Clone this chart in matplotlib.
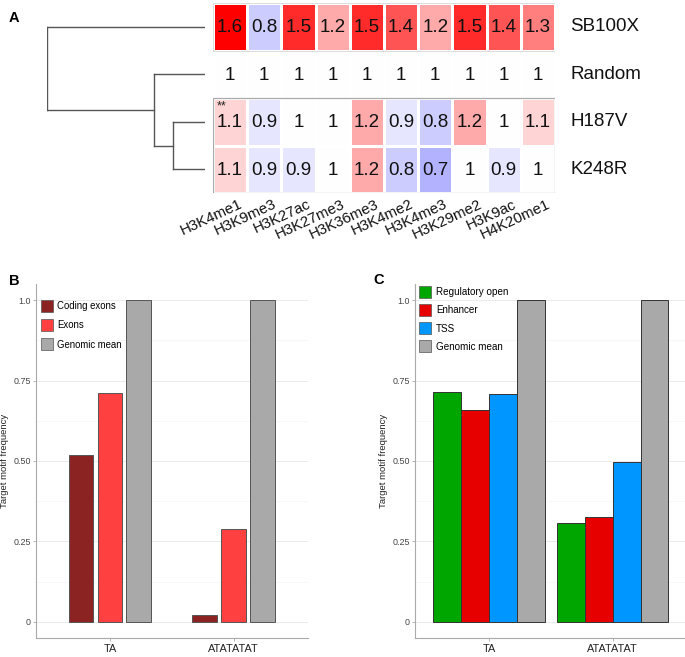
import numpy as np
import matplotlib
matplotlib.use("Agg")
import matplotlib.pyplot as plt
from matplotlib.colors import LinearSegmentedColormap, TwoSlopeNorm
from matplotlib.patches import Patch, Rectangle
from matplotlib.transforms import ScaledTranslation

plt.rcParams['font.family'] = ['Liberation Sans', 'DejaVu Sans']

# ---- panel A data ----
marks = ["H3K4me1", "H3K9me3", "H3K27ac", "H3K27me3", "H3K36me3",
         "H3K4me2", "H3K4me3", "H3K29me2", "H3K9ac", "H4K20me1"]
samples = ["SB100X", "Random", "H187V", "K248R"]
sb100x = [1.6, 0.8, 1.5, 1.2, 1.5, 1.4, 1.2, 1.5, 1.4, 1.3]
random_ = [1, 1, 1, 1, 1, 1, 1, 1, 1, 1]
h187v = [1.1, 0.9, 1, 1, 1.2, 0.9, 0.8, 1.2, 1, 1.1]
k248r = [1.1, 0.9, 0.9, 1, 1.2, 0.8, 0.7, 1, 0.9, 1]
stars = {(2, 0): "**"}
# dendrogram merges: (left, right, height); leaves 0..3, new nodes 4, 5, 6
merges = [(2, 3, 0.2), (1, 4, 0.32), (0, 5, 1.0)]

# ---- panel B / C data ----
motifs = ["TA", "ATATATAT"]
b_series = ["Coding exons", "Exons", "Genomic mean"]
coding_exons = [0.52, 0.02]
exons = [0.71, 0.29]
genomic_mean = [1.0, 1.0]
b_colors = ["#8B2323", "#FF4040", "#A9A9A9"]

c_series = ["Regulatory open", "Enhancer", "TSS", "Genomic mean"]
regulatory_open = [0.713, 0.308]
enhancer = [0.66, 0.327]
tss = [0.707, 0.496]
c_colors = ["#00A600", "#E60000", "#0096FF", "#A9A9A9"]

W, H = 685, 657
fig = plt.figure(figsize=(W / 100, H / 100), dpi=100)


def rect(x0, y0, x1, y1):
    return [x0 / W, 1 - y1 / H, (x1 - x0) / W, (y1 - y0) / H]


def fpos(x, y):
    return (x / W, 1 - y / H)


# ---------------- A: heatmap ----------------
data = np.array([sb100x, random_, h187v, k248r], dtype=float)
nrow, ncol = data.shape
cmap = LinearSegmentedColormap.from_list("bwr_h", ["#0000FF", "#FFFFFF", "#FF0000"])
norm = TwoSlopeNorm(vmin=0.0, vcenter=1.0, vmax=1.6)

axh = fig.add_axes(rect(213, 3, 555, 193))
axh.pcolormesh(np.arange(ncol + 1), np.arange(nrow + 1), data, cmap=cmap, norm=norm,
               edgecolors="white", linewidth=1.0)
axh.set_xlim(0, ncol)
axh.set_ylim(nrow, 0)
for s in axh.spines.values():
    s.set_visible(False)
axh.add_patch(Rectangle((0, 0), ncol, 1, fill=False, edgecolor="#dddddd", lw=0.8))
axh.add_patch(Rectangle((0, 2), ncol, 2, fill=False, edgecolor="#aaaaaa", lw=0.9))
for i in range(nrow):
    for j in range(ncol):
        axh.text(j + 0.5, i + 0.52, f"{data[i, j]:g}", ha="center", va="center",
                 fontsize=13.5, color="#111111")
for (i, j), s in stars.items():
    axh.text(j + 0.1, i + 0.05, s, ha="left", va="top", fontsize=9, color="#222222")
axh.set_yticks([])
axh.set_xticks(np.arange(ncol) + 0.5)
axh.set_xticklabels(marks, rotation=25, ha="right", va="top",
                    rotation_mode="anchor", fontsize=10.8, color="#111111")
axh.tick_params(axis="x", length=0, pad=3)
for lab in axh.get_xticklabels():
    lab.set_transform(lab.get_transform() + ScaledTranslation(6 / 72, 0, fig.dpi_scale_trans))
for i, name in enumerate(samples):
    axh.text(ncol + 0.44, i + 0.5, name, ha="left", va="center", fontsize=13.5,
             color="#111111")

# ---------------- A: dendrogram ----------------
axd = fig.add_axes(rect(47, 3, 205, 193))
axd.set_xlim(1.0, 0.0)
axd.set_ylim(nrow, 0)
axd.axis("off")
pos = {k: (k + 0.5, 0.0) for k in range(nrow)}
node = nrow
for a, b, h in merges:
    ya, ha_ = pos[a]
    yb, hb = pos[b]
    axd.plot([ha_, h], [ya, ya], color="#555555", lw=1.0)
    axd.plot([hb, h], [yb, yb], color="#555555", lw=1.0)
    axd.plot([h, h], [ya, yb], color="#555555", lw=1.0)
    pos[node] = ((ya + yb) / 2, h)
    node += 1

fig.text(*fpos(14, 18), "A", fontsize=10.5, fontweight="bold", ha="center", va="center")
fig.text(*fpos(14, 281), "B", fontsize=10.5, fontweight="bold", ha="center", va="center")
fig.text(*fpos(379, 280), "C", fontsize=10.5, fontweight="bold", ha="center", va="center")


# ---------------- B / C: bar panels ----------------
def style_bar_axes(ax):
    ax.set_xlim(0.4, 2.6)
    ax.set_ylim(-0.05, 1.05)
    ax.set_yticks([0, 0.25, 0.5, 0.75, 1.0])
    ax.set_yticklabels(["0", "0.25", "0.50", "0.75", "1.0"])
    ax.set_yticks([0.125, 0.375, 0.625, 0.875], minor=True)
    ax.set_xticks([1, 2])
    ax.set_xticklabels(motifs)
    ax.grid(axis="y", which="major", color="#EBEBEB", lw=0.7)
    ax.grid(axis="y", which="minor", color="#F4F4F4", lw=0.5)
    ax.set_axisbelow(True)
    for side in ["top", "right"]:
        ax.spines[side].set_visible(False)
    for side in ["left", "bottom"]:
        ax.spines[side].set_color("#AAAAAA")
        ax.spines[side].set_linewidth(0.8)
    ax.tick_params(axis="y", which="major", labelsize=6.4, colors="#AAAAAA",
                   labelcolor="#444444", length=2, width=0.6, pad=1.5)
    ax.tick_params(axis="y", which="minor", length=0)
    ax.tick_params(axis="x", labelsize=7.8, colors="#AAAAAA", labelcolor="#222222",
                   length=2.5, width=0.6, pad=2)
    ax.set_ylabel("Target motif frequency", fontsize=6.8, color="#222222", labelpad=3)


x = np.arange(1, len(motifs) + 1)

axb = fig.add_axes(rect(35.6, 284, 308, 638))
b_vals = [coding_exons, exons, genomic_mean]
dodge = 0.7 / len(b_vals)
for k, (name, vals, col) in enumerate(zip(b_series, b_vals, b_colors)):
    axb.bar(x + (k - 1) * dodge, vals, width=0.2, color=col, edgecolor="#555555",
            linewidth=0.7, label=name, zorder=2)
style_bar_axes(axb)
axb.legend(handles=[Patch(facecolor=c, edgecolor="#555555", lw=0.5) for c in b_colors],
           labels=b_series, loc="upper left", bbox_to_anchor=fpos(41, 300),
           bbox_transform=fig.transFigure, frameon=False, fontsize=6.9,
           handlelength=1.25, handleheight=1.55, labelspacing=0.75, handletextpad=0.45,
           borderpad=0, borderaxespad=0)

axc = fig.add_axes(rect(414.6, 284, 687, 638))
c_vals = [regulatory_open, enhancer, tss, genomic_mean]
bw = 0.9 / len(c_vals)
for k, (name, vals, col) in enumerate(zip(c_series, c_vals, c_colors)):
    axc.bar(x + (k - 1.5) * bw, vals, width=bw, color=col, edgecolor="#333333",
            linewidth=0.7, label=name, zorder=2)
style_bar_axes(axc)
axc.legend(handles=[Patch(facecolor=c, edgecolor="#555555", lw=0.5) for c in c_colors],
           labels=c_series, loc="upper left", bbox_to_anchor=fpos(419, 286),
           bbox_transform=fig.transFigure, frameon=False, fontsize=7.1,
           handlelength=1.2, handleheight=1.5, labelspacing=0.62, handletextpad=0.5,
           borderpad=0, borderaxespad=0)

fig.savefig("out.png", dpi=100)
